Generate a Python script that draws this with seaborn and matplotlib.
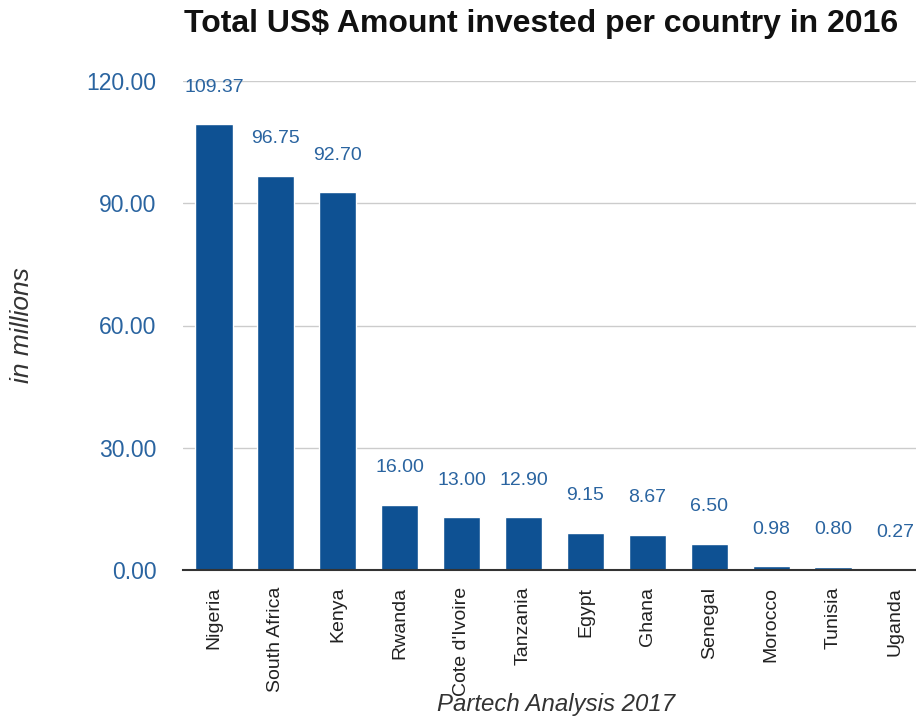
import matplotlib
matplotlib.use("Agg")
import matplotlib.pyplot as plt
import seaborn as sns
import pandas as pd

countries = ["Nigeria", "South Africa", "Kenya", "Rwanda", "Cote d'Ivoire", "Tanzania",
             "Egypt", "Ghana", "Senegal", "Morocco", "Tunisia", "Uganda"]
amounts = [109.37, 96.75, 92.70, 16.00, 13.00, 12.90, 9.15, 8.67, 6.50, 0.98, 0.80, 0.27]
yticks = [0, 30, 60, 90, 120]

sns.set_style("white")
plt.rcParams['font.family'] = ['Liberation Sans', 'DejaVu Sans']

W, H = 916, 719
fig = plt.figure(figsize=(W / 100, H / 100), dpi=100)
ax = fig.add_axes([183 / W, 1 - 570 / H, (916 - 183) / W, (570 - 81) / H])

df = pd.DataFrame({"country": countries, "amount": amounts})
bar_color = "#0e5193"
label_color = "#2a64a0"
sns.barplot(data=df, x="country", y="amount", color=bar_color, saturation=1,
            width=0.6, ax=ax, zorder=3)

ax.set_xlim(-0.5, 11.34)
ax.set_ylim(0, 120)
ax.set_yticks(yticks)
ax.set_yticklabels([f"{v:.2f}" for v in yticks], color=label_color, fontsize=16.5)
ax.yaxis.grid(True, color="#cccccc", linewidth=1, zorder=0)
ax.tick_params(axis='y', length=0, pad=19)
ax.tick_params(axis='x', length=0, pad=12)
for lbl in ax.get_xticklabels():
    lbl.set_rotation(90)
    lbl.set_fontsize(14)
    lbl.set_color("#222222")
    lbl.set_va("top")
    lbl.set_ha("center")

for s in ["top", "right", "left"]:
    ax.spines[s].set_visible(False)
ax.spines["bottom"].set_color("#333333")
ax.spines["bottom"].set_linewidth(1.5)
ax.spines["bottom"].set_zorder(4)

ax.set_xlabel("")
ax.set_ylabel("")

for i, v in enumerate(amounts):
    ax.annotate(f"{v:.2f}", xy=(i, v), xytext=(0, 26.5), textcoords="offset points",
                ha="center", va="center", fontsize=14, color=label_color)

fig.text(541 / W, 1 - 32 / H, "Total US$ Amount invested per country in 2016",
         ha="center", va="baseline", fontsize=23, fontweight="bold", color="#111111")
fig.text(22 / W, 1 - 325 / H, "in millions", rotation=90, ha="center", va="center",
         fontsize=19, style="italic", color="#333333")
fig.text(556 / W, 1 - 705 / H, "Partech Analysis 2017", ha="center", va="center",
         fontsize=17.3, style="italic", color="#333333")

fig.savefig("out.png", dpi=100)
